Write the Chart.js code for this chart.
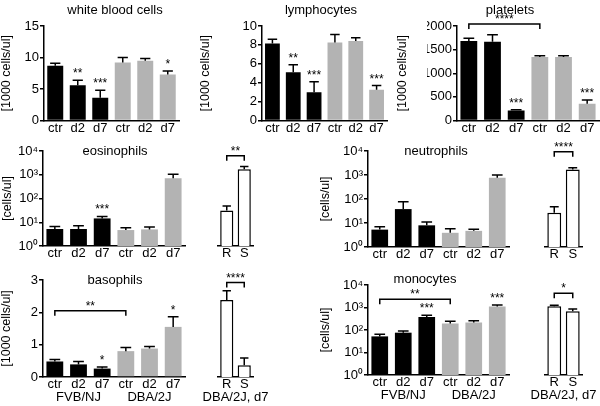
<!DOCTYPE html>
<html>
<head>
<meta charset="utf-8">
<script src="https://cdn.jsdelivr.net/npm/chart.js"></script>
<style>
  html, body { margin: 0; background: #fff; }
  #fig { position: relative; width: 600px; height: 406px; }
  #fig canvas { position: absolute; left: 0; top: 0; }
</style>
</head>
<body>
<div id="fig"></div>
<script>
const days = ["ctr", "d2", "d7", "ctr", "d2", "d7"];
const rs = ["R", "S"];

const wbcMean = [8.7, 5.6, 3.6, 9.2, 9.5, 7.3];
const wbcSem = [0.4, 0.8, 1.2, 0.8, 0.35, 0.55];
const wbcSig = ["", "**", "***", "", "", "*"];

const lymMean = [8.15, 5.1, 3.0, 8.25, 8.4, 3.25];
const lymSem = [0.45, 0.8, 1.1, 0.85, 0.35, 0.45];
const lymSig = ["", "**", "***", "", "", "***"];

const pltMean = [1685, 1665, 210, 1345, 1345, 355];
const pltSem = [55, 150, 20, 25, 25, 80];
const pltSig = ["", "", "***", "", "", "***"];

const eosMean = [5.2, 5.2, 14.5, 4.7, 5.0, 720];
const eosSem = [1.4, 2.0, 3.0, 1.1, 1.3, 330];
const eosSig = ["", "", "***", "", "", ""];
const eosRsMean = [31, 1700];
const eosRsSem = [17, 500];

const neuMean = [5.3, 38, 8.0, 3.9, 4.7, 770];
const neuSem = [1.6, 38, 3.1, 1.9, 0.8, 230];
const neuSig = ["", "", "", "", "", ""];
const neuRsMean = [27, 1700];
const neuRsSem = [20, 300];

const basMean = [0.48, 0.39, 0.26, 0.8, 0.88, 1.55];
const basSem = [0.06, 0.09, 0.05, 0.11, 0.06, 0.31];
const basSig = ["", "", "*", "", "", "*"];
const basRsMean = [2.38, 0.36];
const basRsSem = [0.29, 0.23];

const monMean = [52, 76, 380, 195, 215, 1100];
const monSem = [13, 14, 70, 50, 40, 180];
const monSig = ["", "", "***", "", "", "***"];
const monRsMean = [1150, 680];
const monRsSem = [120, 180];

const linWbc = [0, 5, 10, 15];
const linLym = [0, 2, 4, 6, 8, 10];
const linPlt = [0, 500, 1000, 1500, 2000];
const linBas = [0, 1, 2, 3];
const logTicks = [1, 10, 100, 1000, 10000];

const GREY = "#b3b3b3";
const strainFill = ["#000", "#000", "#000", GREY, GREY, GREY];
const font = "'Liberation Sans', Arial, Helvetica, sans-serif";
const sup = ["\u2070", "\u00b9", "\u00b2", "\u00b3", "\u2074"];

Chart.defaults.font.family = font;
Chart.defaults.font.size = 13;
Chart.defaults.color = "#000";

const fig = document.getElementById("fig");

function panel(cfg) {
  const canvas = document.createElement("canvas");
  canvas.width = 600;
  canvas.height = 406;
  fig.appendChild(canvas);

  const [x0, y0, x1, y1] = cfg.area;
  const yw = cfg.axis ? 30 : 0;
  const xh = 15;
  const rsPanel = cfg.labels.length === 2;

  const decor = {
    id: "decor",
    afterDraw(chart) {
      const ctx = chart.ctx;
      const ys = chart.scales.y;
      const bars = chart.getDatasetMeta(0).data;
      const area = chart.chartArea;
      ctx.save();
      ctx.strokeStyle = "#000";
      ctx.fillStyle = "#000";
      ctx.lineWidth = 1.5;

      // error bars (upper whisker only) and significance stars
      cfg.values.forEach((v, i) => {
        const b = bars[i];
        const top = ys.getPixelForValue(v + cfg.sem[i]);
        const half = b.width * 0.32;
        ctx.beginPath();
        ctx.moveTo(b.x, b.y);
        ctx.lineTo(b.x, top);
        ctx.moveTo(b.x - half, top);
        ctx.lineTo(b.x + half, top);
        ctx.stroke();
        if (cfg.sig && cfg.sig[i]) {
          ctx.font = "12px " + font;
          ctx.textAlign = "center";
          ctx.textBaseline = "alphabetic";
          ctx.fillText(cfg.sig[i], b.x, top - 3);
        }
      });

      (cfg.brackets || []).forEach((br) => {
        const xa = bars[br.a].x;
        const xb = bars[br.b].x;
        const yy = ys.getPixelForValue(br.at);
        ctx.beginPath();
        ctx.moveTo(xa, yy + 5);
        ctx.lineTo(xa, yy);
        ctx.lineTo(xb, yy);
        ctx.lineTo(xb, yy + 5);
        ctx.stroke();
        ctx.font = "12px " + font;
        ctx.textAlign = "center";
        ctx.textBaseline = "alphabetic";
        ctx.fillText(br.text, (xa + xb) / 2, yy - 1);
      });

      ctx.font = "13px " + font;
      ctx.textAlign = "center";
      ctx.textBaseline = "middle";
      if (cfg.title) ctx.fillText(cfg.title, cfg.titleAt[0], cfg.titleAt[1]);

      (cfg.groups || []).forEach((g) => {
        const gx = (bars[g.a].x + bars[g.b].x) / 2;
        ctx.fillText(g.text, gx, area.bottom + 20);
      });

      if (cfg.yTitle) {
        ctx.save();
        ctx.translate(cfg.yTitleX, (area.top + area.bottom) / 2);
        ctx.rotate(-Math.PI / 2);
        ctx.font = "12.5px " + font;
        ctx.fillText(cfg.yTitle, 0, 0);
        ctx.restore();
      }
      ctx.restore();
    },
  };

  new Chart(canvas, {
    type: "bar",
    data: {
      labels: cfg.labels,
      datasets: [
        {
          data: cfg.values,
          backgroundColor: cfg.fill,
          borderColor: "#000",
          borderWidth: cfg.outline ? 1.5 : 0,
          barPercentage: rsPanel ? 0.75 : 0.71,
          categoryPercentage: 1,
        },
      ],
    },
    options: {
      responsive: false,
      animation: false,
      events: [],
      layout: {
        padding: { left: x0 - yw, top: y0, right: 600 - x1, bottom: 406 - y1 - xh },
      },
      plugins: { legend: { display: false }, tooltip: { enabled: false } },
      scales: {
        x: {
          afterFit: (s) => { s.height = xh; },
          grid: { display: false, drawTicks: false },
          border: { display: true, color: "#000", width: 1.5 },
          ticks: { padding: 0, color: "#000", font: { size: 13 } },
        },
        y: {
          type: cfg.log ? "logarithmic" : "linear",
          display: cfg.axis,
          min: cfg.yTicks[0],
          max: cfg.yTicks[cfg.yTicks.length - 1],
          afterBuildTicks: (s) => { s.ticks = cfg.yTicks.map((v) => ({ value: v })); },
          afterFit: (s) => { s.width = yw; },
          ticks: {
            padding: 1,
            color: "#000",
            font: { size: 13 },
            callback: (v) => (cfg.log ? "10" + sup[Math.round(Math.log10(v))] : v),
          },
          grid: {
            display: true,
            drawOnChartArea: false,
            drawTicks: true,
            tickLength: 4,
            color: "#000",
            lineWidth: 1.5,
          },
          border: { display: true, color: "#000", width: 1.5 },
        },
      },
    },
    plugins: [decor],
  });
}

// top row
panel({
  area: [44, 26, 179, 120.5], labels: days, values: wbcMean, sem: wbcSem, sig: wbcSig,
  fill: strainFill, axis: true, yTicks: linWbc,
  title: "white blood cells", titleAt: [115, 10], yTitle: "[1000 cells/ul]", yTitleX: 7,
});
panel({
  area: [262, 26, 387, 120.5], labels: days, values: lymMean, sem: lymSem, sig: lymSig,
  fill: strainFill, axis: true, yTicks: linLym,
  title: "lymphocytes", titleAt: [321, 10], yTitle: "[1000 cells/ul]", yTitleX: 206,
});
panel({
  area: [457, 26, 599, 120.5], labels: days, values: pltMean, sem: pltSem, sig: pltSig,
  fill: strainFill, axis: true, yTicks: linPlt,
  brackets: [{ a: 0, b: 3, at: 2040, text: "****" }],
  title: "platelets", titleAt: [510, 10], yTitle: "[1000 cells/ul]", yTitleX: 403,
});

// middle row
panel({
  area: [43, 151, 185, 246], labels: days, values: eosMean, sem: eosSem, sig: eosSig,
  fill: strainFill, axis: true, log: true, yTicks: logTicks,
  title: "eosinophils", titleAt: [115, 151], yTitle: "[cells/ul]", yTitleX: 8,
});
panel({
  area: [218, 151, 253, 246], labels: rs, values: eosRsMean, sem: eosRsSem,
  fill: "#fff", outline: true, axis: false, log: true, yTicks: logTicks,
  brackets: [{ a: 0, b: 1, at: 6300, text: "**" }],
});
panel({
  area: [368, 151, 509, 247], labels: days, values: neuMean, sem: neuSem, sig: neuSig,
  fill: strainFill, axis: true, log: true, yTicks: logTicks,
  title: "neutrophils", titleAt: [436, 151], yTitle: "[cells/ul]", yTitleX: 326,
});
panel({
  area: [545, 151, 582, 247], labels: rs, values: neuRsMean, sem: neuRsSem,
  fill: "#fff", outline: true, axis: false, log: true, yTicks: logTicks,
  brackets: [{ a: 0, b: 1, at: 9300, text: "****" }],
});

// bottom row
panel({
  area: [43, 280, 185, 377], labels: days, values: basMean, sem: basSem, sig: basSig,
  fill: strainFill, axis: true, yTicks: linBas,
  brackets: [{ a: 0, b: 3, at: 2.05, text: "**" }],
  groups: [{ a: 0, b: 2, text: "FVB/NJ" }, { a: 3, b: 5, text: "DBA/2J" }],
  title: "basophils", titleAt: [115, 280], yTitle: "[1000 cells/ul]", yTitleX: 7,
});
panel({
  area: [218, 280, 253, 377], labels: rs, values: basRsMean, sem: basRsSem,
  fill: "#fff", outline: true, axis: false, yTicks: linBas,
  brackets: [{ a: 0, b: 1, at: 2.92, text: "****" }],
  groups: [{ a: 0, b: 1, text: "DBA/2J, d7" }],
});
panel({
  area: [368, 285, 509, 375], labels: days, values: monMean, sem: monSem, sig: monSig,
  fill: strainFill, axis: true, log: true, yTicks: logTicks,
  brackets: [{ a: 0, b: 3, at: 2300, text: "**" }],
  groups: [{ a: 0, b: 2, text: "FVB/NJ" }, { a: 3, b: 5, text: "DBA/2J" }],
  title: "monocytes", titleAt: [425, 279], yTitle: "[cells/ul]", yTitleX: 326,
});
panel({
  area: [545, 285, 582, 375], labels: rs, values: monRsMean, sem: monRsSem,
  fill: "#fff", outline: true, axis: false, log: true, yTicks: logTicks,
  brackets: [{ a: 0, b: 1, at: 4300, text: "*" }],
  groups: [{ a: 0, b: 1, text: "DBA/2J, d7" }],
});
</script>
</body>
</html>
